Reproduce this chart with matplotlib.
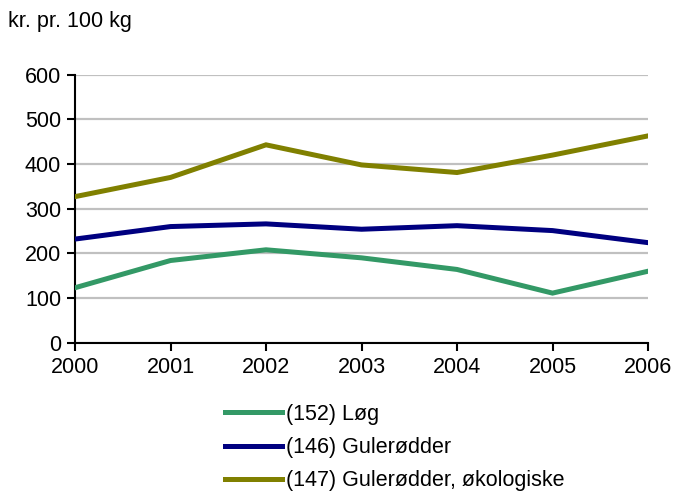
import matplotlib
matplotlib.use("Agg")
import matplotlib.pyplot as plt

years = ["2000", "2001", "2002", "2003", "2004", "2005", "2006"]
loeg = [123, 184, 208, 190, 164, 111, 160]
gulerodder = [232, 260, 266, 254, 262, 251, 224]
gulerodder_oko = [327, 370, 443, 398, 381, 420, 463]
labels = ["(152) Løg", "(146) Gulerødder", "(147) Gulerødder, økologiske"]
colors = ["#339966", "#000080", "#808000"]
yticks = [0, 100, 200, 300, 400, 500, 600]

plt.rcParams['font.family'] = ['Liberation Sans', 'DejaVu Sans']

W, H = 674, 491
FS = 15.5
fig = plt.figure(figsize=(W/100, H/100), dpi=100)
ax = fig.add_axes([75/W, 1-342.7/H, (648-75)/W, (342.7-74.7)/H])

x = list(range(len(years)))
handles = []
for vals, lab, c in zip([loeg, gulerodder, gulerodder_oko], labels, colors):
    h, = ax.plot(x, vals, color=c, lw=3.6, label=lab, solid_joinstyle='miter', zorder=3)
    handles.append(h)

ax.set_xlim(0, len(years)-1)
ax.set_ylim(0, 600)
ax.set_xticks(x)
ax.set_xticklabels(years)
ax.set_yticks(yticks)
ax.yaxis.grid(True, color="#C0C0C0", lw=1.6)
ax.set_axisbelow(True)
for s in ["top", "right"]:
    ax.spines[s].set_visible(False)
for s in ["left", "bottom"]:
    ax.spines[s].set_linewidth(1.5)
    ax.spines[s].set_color("black")
ax.tick_params(axis='both', direction='out', length=6, width=1.5, labelsize=FS, colors='black')
ax.tick_params(axis='x', pad=4)
ax.tick_params(axis='y', pad=4)

fig.text(8/W, 1-22/H, "kr. pr. 100 kg", fontsize=FS, va='center', ha='left')

fig.legend(handles=handles, loc='upper left', bbox_to_anchor=(225/W, 1-404/H),
           frameon=False, fontsize=FS, handlelength=2.65, handletextpad=0.2,
           labelspacing=0.56, borderaxespad=0, borderpad=0)

fig.savefig("out.png", dpi=100)
